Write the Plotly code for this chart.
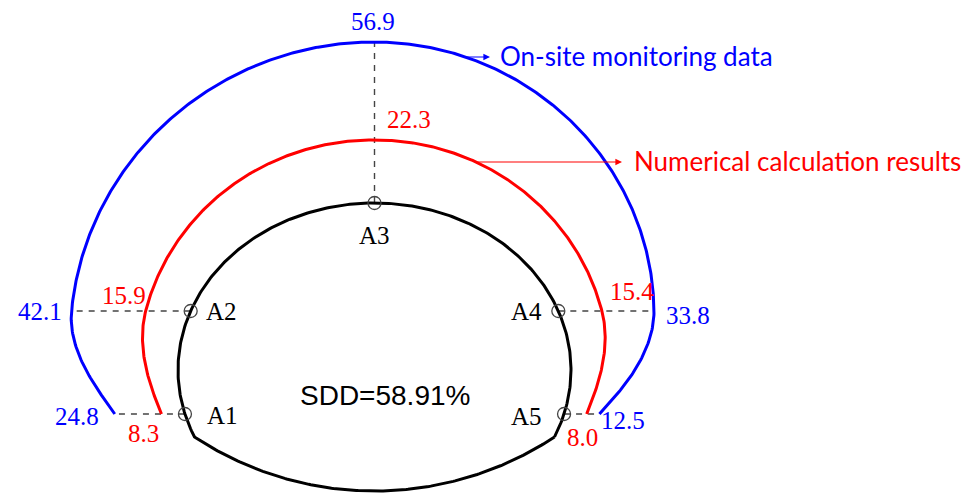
import numpy as np
import plotly.graph_objects as go

# ---- data -------------------------------------------------------------
stations = ["A1", "A2", "A3", "A4", "A5"]
onsite_mm = [24.8, 42.1, 56.9, 33.8, 12.5]        # on-site monitoring (mm)
numerical_mm = [8.3, 15.9, 22.3, 15.4, 8.0]       # numerical calculation (mm)
series_names = ["On-site monitoring data", "Numerical calculation results"]
sdd_text = "SDD=58.91%"

# ---- section geometry (drawing units, origin at springline centre) ----
HALF_SPAN = 196.5
CROWN_RISE = 167.0
INVERT_KINK_Y = -67.0
INVERT_BOTTOM_Y = -121.0
STATION_Y = [-44.0, 59.0, CROWN_RISE, 59.0, -44.0]
STATION_SIDE = [-1, -1, 0, 1, 1]       # -1 left wall, 0 crown, 1 right wall
SCALE = 2.83                           # drawing units per mm of deformation

BLUE, RED, GREY = "#0000FF", "#FF0000", "#444444"
SERIF = "Liberation Serif, Times New Roman, serif"
SANS = "Liberation Sans, Arial, sans-serif"
CALLOUT = "Lato, Open Sans, sans-serif"


def station_phi(y, side):
    if side == 0:
        return np.pi / 2
    p = np.arcsin(y / CROWN_RISE)
    return p if side > 0 else np.pi - p


def station_dir(side):
    return {-1: np.pi, 0: np.pi / 2, 1: 0.0}[side]


def arch(phi):
    return HALF_SPAN * np.cos(phi), CROWN_RISE * np.sin(phi)


phis = [station_phi(y, s) for y, s in zip(STATION_Y, STATION_SIDE)]
dirs = [station_dir(s) for s in STATION_SIDE]
st_xy = [arch(p) for p in phis]


def tip(values, i):
    d = SCALE * values[i]
    return st_xy[i][0] + d * np.cos(dirs[i]), st_xy[i][1] + d * np.sin(dirs[i])


def pchip(x, y, xq):
    """Shape-preserving piecewise cubic Hermite curve through (x, y)."""
    x, y = np.asarray(x, float), np.asarray(y, float)
    h = np.diff(x)
    delta = np.diff(y) / h
    m = np.zeros_like(y)
    m[0], m[-1] = delta[0], delta[-1]
    for k in range(1, len(x) - 1):
        if delta[k - 1] * delta[k] > 0:
            w1 = 2 * h[k] + h[k - 1]
            w2 = h[k] + 2 * h[k - 1]
            m[k] = (w1 + w2) / (w1 / delta[k - 1] + w2 / delta[k])
    idx = np.clip(np.searchsorted(x, xq) - 1, 0, len(x) - 2)
    t = (xq - x[idx]) / h[idx]
    h00 = 2 * t**3 - 3 * t**2 + 1
    h10 = t**3 - 2 * t**2 + t
    h01 = -2 * t**3 + 3 * t**2
    h11 = t**3 - t**2
    return (h00 * y[idx] + h10 * h[idx] * m[idx]
            + h01 * y[idx + 1] + h11 * h[idx] * m[idx + 1])


def envelope(values):
    """Deformed contour drawn smoothly (polar about the centre) through the tips."""
    pts = [tip(values, i) for i in range(len(values))]
    ang = np.array([np.arctan2(py, px) for px, py in pts])
    ang = np.where(ang < -np.pi / 2, ang + 2 * np.pi, ang)
    rad = np.array([np.hypot(px, py) for px, py in pts])
    o = np.argsort(ang)
    aq = np.linspace(ang[o][0], ang[o][-1], 500)
    rq = pchip(ang[o], rad[o], aq)
    return rq * np.cos(aq), rq * np.sin(aq)


# ---- lining outline ----------------------------------------------------
phi_k = np.arcsin(INVERT_KINK_Y / CROWN_RISE)
phi_arch = np.linspace(phi_k, np.pi - phi_k, 300)
ax_, ay_ = arch(phi_arch)
xk = HALF_SPAN * np.cos(phi_k)
sag = INVERT_KINK_Y - INVERT_BOTTOM_Y
R = (xk ** 2 + sag ** 2) / (2 * sag)
cy = INVERT_BOTTOM_Y + R
a0 = np.arctan2(INVERT_KINK_Y - cy, -xk)
a1 = np.arctan2(INVERT_KINK_Y - cy, xk)
ang = np.linspace(a0, a1 if a1 > a0 else a1 + 2 * np.pi, 200)
ix, iy = R * np.cos(ang), cy + R * np.sin(ang)
out_x = np.concatenate([ax_, ix])
out_y = np.concatenate([ay_, iy])

fig = go.Figure()

# measuring lines
for i in range(len(stations)):
    tx, ty = tip(onsite_mm, i)
    fig.add_trace(go.Scatter(x=[st_xy[i][0], tx], y=[st_xy[i][1], ty], mode="lines",
                             line=dict(color=GREY, width=1.4, dash="6px,6px"),
                             hoverinfo="skip", showlegend=False))

fig.add_trace(go.Scatter(x=out_x, y=out_y, mode="lines",
                         line=dict(color="black", width=3), showlegend=False))

bx, by = envelope(onsite_mm)
rx, ry = envelope(numerical_mm)
fig.add_trace(go.Scatter(x=bx, y=by, mode="lines", name=series_names[0],
                         line=dict(color=BLUE, width=3), showlegend=False))
fig.add_trace(go.Scatter(x=rx, y=ry, mode="lines", name=series_names[1],
                         line=dict(color=RED, width=3), showlegend=False))

fig.add_trace(go.Scatter(x=[p[0] for p in st_xy], y=[p[1] for p in st_xy], mode="markers",
                         marker=dict(symbol="circle-open", size=13, color=GREY,
                                     line=dict(width=1.3, color=GREY)),
                         showlegend=False))

ann = []


def label(x, y, text, color, size, font=SERIF, xa="center", ya="middle", dx=0, dy=0):
    ann.append(dict(x=x, y=y, text=text, showarrow=False, xanchor=xa, yanchor=ya,
                    xshift=dx, yshift=dy, font=dict(family=font, size=size, color=color)))


# station names
name_pos = {
    "A1": dict(xa="left", dx=20, dy=-1),
    "A2": dict(xa="left", dx=13, dy=0),
    "A3": dict(xa="center", dx=0, dy=-32),
    "A4": dict(xa="right", dx=-14, dy=0),
    "A5": dict(xa="right", dx=-20, dy=-2),
}
for i, n in enumerate(stations):
    label(st_xy[i][0], st_xy[i][1], n, "black", 25, **name_pos[n])

# on-site values
blue_pos = [dict(xa="right", dx=-14, dy=-2), dict(xa="right", dx=-8, dy=0),
            dict(xa="center", dx=-2, dy=20), dict(xa="left", dx=10, dy=-4),
            dict(xa="left", dx=0, dy=-6)]
for i, v in enumerate(onsite_mm):
    tx, ty = tip(onsite_mm, i)
    label(tx, ty, f"{v:.1f}", BLUE, 25, **blue_pos[i])

# numerical values
red_pos = [dict(xa="center", dx=-18, dy=-19), dict(xa="right", dx=2, dy=16),
           dict(xa="left", dx=10, dy=20), dict(xa="left", dx=6, dy=20),
           dict(xa="center", dx=-4, dy=-23)]
for i, v in enumerate(numerical_mm):
    tx, ty = tip(numerical_mm, i)
    label(tx, ty, f"{v:.1f}", RED, 25, **red_pos[i])

label(10, -25, sdd_text, "black", 28, font=SANS)

# series call-outs
X0 = 374.5
Y0 = 370.0
for (ex, ey, col, name, y_line, x_head, x_text) in [
        (bx, by, BLUE, series_names[0], Y0 - 57, 490 - X0, 498 - X0),
        (rx, ry, RED, series_names[1], Y0 - 162, 622 - X0, 632 - X0)]:
    right = ex > 0
    k = np.argmin(np.abs(ey[right] - y_line))
    x_tail = ex[right][k]
    ann.append(dict(x=x_head, y=y_line, ax=x_tail, ay=y_line, axref="x", ayref="y",
                    text="", showarrow=True, arrowhead=2, arrowsize=1.1, arrowwidth=1.2,
                    arrowcolor=col, standoff=0, startstandoff=0))
    label(x_text, y_line + 1, name, col, 26, font=CALLOUT, xa="left")

fig.update_layout(
    width=979, height=493, margin=dict(l=0, r=0, t=0, b=0),
    paper_bgcolor="white", plot_bgcolor="white", annotations=ann, showlegend=False,
    xaxis=dict(range=[-X0, 979 - X0], visible=False, fixedrange=True),
    yaxis=dict(range=[Y0 - 493, Y0], visible=False, fixedrange=True),
)

fig.write_html("out.html")
